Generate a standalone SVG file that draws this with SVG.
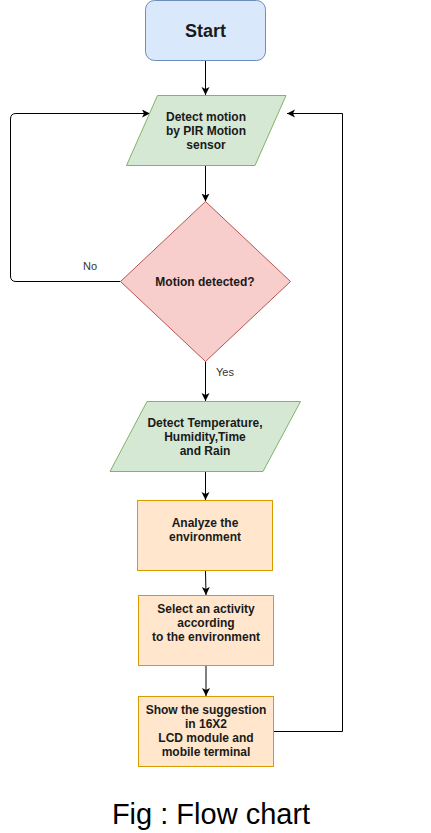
<svg xmlns="http://www.w3.org/2000/svg" width="431" height="833" viewBox="0 0 431 833">
<style>
text{font-family:"Liberation Sans",Arial,sans-serif;fill:#1a1a1a}
.n{font-size:12px;font-weight:bold;text-anchor:middle}
.lbl{font-size:11px;fill:#333;text-anchor:middle}
.e{fill:none;stroke:#000;stroke-width:1}
.blue{fill:#dae8fc;stroke:#6c8ebf}
.green{fill:#d5e8d4;stroke:#82b366}
.red{fill:#f8cecc;stroke:#b85450}
.orange{fill:#ffe6cc;stroke:#d79b00}
</style>
<defs>
<marker id="arr" markerWidth="10" markerHeight="10" refX="8" refY="4" orient="auto" markerUnits="userSpaceOnUse">
<path d="M0,0 L8,4 L0,8 L2,4 Z" fill="#000"/>
</marker>
</defs>
<rect width="431" height="833" fill="#fff"/>
<g id="connectors">
<path class="e" d="M205.5,60.5 V95" marker-end="url(#arr)"/>
<path class="e" d="M205.5,165.5 V201.5" marker-end="url(#arr)"/>
<path class="e" d="M120.5,281.5 H16 Q10.5,281.5 10.5,276 V119 Q10.5,113.5 16,113.5 H150" marker-end="url(#arr)"/>
<path class="e" d="M205.5,361.5 V401" marker-end="url(#arr)"/>
<path class="e" d="M205.5,471.5 V500" marker-end="url(#arr)"/>
<path class="e" d="M205.5,570.5 L206,595" marker-end="url(#arr)"/>
<path class="e" d="M206,665.5 V696" marker-end="url(#arr)"/>
<path class="e" d="M273.5,731.5 H342.5 V113.5 H287" marker-end="url(#arr)"/>
<text class="lbl" x="90" y="270">No</text>
<text class="lbl" x="225" y="376">Yes</text>
</g>
<g id="start">
<rect class="blue" x="145.5" y="0.5" width="120" height="60" rx="9"/>
<text class="n" x="205.5" y="37" style="font-size:18px">Start</text>
</g>
<g id="detect-motion">
<polygon class="green" points="157.5,95.5 286,95.5 255,165.5 126.5,165.5"/>
<text class="n" x="206" y="121">Detect motion</text>
<text class="n" x="206" y="135">by PIR Motion</text>
<text class="n" x="206" y="149">sensor</text>
</g>
<g id="motion-detected">
<polygon class="red" points="205.5,201.5 290.5,281.5 205.5,361.5 120.5,281.5"/>
<text class="n" x="205" y="286">Motion detected?</text>
</g>
<g id="detect-env">
<polygon class="green" points="147,401.5 300.5,401.5 263,471.5 110,471.5"/>
<text class="n" x="205" y="427">Detect Temperature,</text>
<text class="n" x="205" y="441">Humidity,Time</text>
<text class="n" x="205" y="455">and Rain</text>
</g>
<g id="analyze">
<rect class="orange" x="137.5" y="500.5" width="135" height="70"/>
<text class="n" x="205" y="527">Analyze the</text>
<text class="n" x="205" y="541">environment</text>
</g>
<g id="select">
<rect class="orange" x="138.5" y="595.5" width="135" height="70"/>
<text class="n" x="206" y="613">Select an activity</text>
<text class="n" x="206" y="627">according</text>
<text class="n" x="206" y="641">to the environment</text>
</g>
<g id="show">
<rect class="orange" x="138.5" y="696.5" width="135" height="70"/>
<text class="n" x="206" y="714">Show the suggestion</text>
<text class="n" x="206" y="728">in 16X2</text>
<text class="n" x="206" y="742">LCD module and</text>
<text class="n" x="206" y="756">mobile terminal</text>
</g>
<text x="211" y="824" style="font-size:29px;text-anchor:middle;fill:#000">Fig : Flow chart</text>
</svg>
